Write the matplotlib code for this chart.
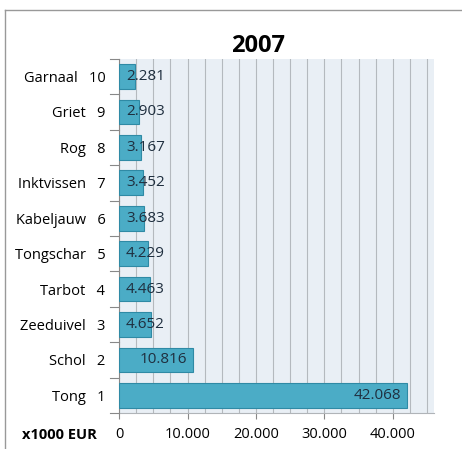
import matplotlib
matplotlib.use('Agg')
import matplotlib.pyplot as plt
from matplotlib.ticker import MultipleLocator, FuncFormatter
from matplotlib.lines import Line2D

# Data (x1000 EUR), top to bottom as in the chart
species = ['Garnaal', 'Griet', 'Rog', 'Inktvissen', 'Kabeljauw',
           'Tongschar', 'Tarbot', 'Zeeduivel', 'Schol', 'Tong']
ranks = [10, 9, 8, 7, 6, 5, 4, 3, 2, 1]
values = [2281, 2903, 3167, 3452, 3683, 4229, 4463, 4652, 10816, 42068]
value_labels = ['2.281', '2.903', '3.167', '3.452', '3.683',
                '4.229', '4.463', '4.652', '10.816', '42.068']

plt.rcParams['font.family'] = ['Open Sans', 'DejaVu Sans']

fig = plt.figure(figsize=(4.62, 4.49), dpi=100)
ax = fig.add_axes([0.258, 0.080, 0.681, 0.789])
ax.set_facecolor('#e9eff5')

ypos = list(range(len(species)))[::-1]
ax.barh(ypos, values, height=0.7, color='#4bacc6', edgecolor='#2f8aa5',
        linewidth=0.8, zorder=3)

for y, v, lab in zip(ypos, values, value_labels):
    if v > 8000:
        ax.text(v - 900, y, lab, ha='right', va='center', fontsize=11,
                color='#1f2f3f', zorder=4)
    else:
        ax.text(1000, y, lab, ha='left', va='center', fontsize=11,
                color='#1f2f3f', zorder=4)

ax.set_xlim(0, 46000)
ax.set_ylim(-0.5, len(species) - 0.5)
ax.xaxis.set_major_locator(MultipleLocator(10000))
ax.xaxis.set_minor_locator(MultipleLocator(2500))
ax.xaxis.set_major_formatter(FuncFormatter(lambda x, p: f'{int(x):,}'.replace(',', '.')))
ax.grid(True, axis='x', which='both', color='#b4b9be', linewidth=0.8, zorder=0)

ax.set_yticks(ypos)
ax.set_yticklabels([f'{s}   {r}' for s, r in zip(species, ranks)], fontsize=10.5)
ax.tick_params(axis='y', length=0, pad=10)
ax.tick_params(axis='x', which='major', length=4, color='#888888', labelsize=10.5, pad=6)
ax.tick_params(axis='x', which='minor', length=0)

# tick marks between categories on the value axis side
for b in range(len(species) + 1):
    ax.plot([-1300, 0], [b - 0.5, b - 0.5], color='#888888', lw=0.8,
            clip_on=False, zorder=5)

for side in ['top', 'right']:
    ax.spines[side].set_visible(False)
ax.spines['left'].set_color('#888888')
ax.spines['bottom'].set_color('#b0b4b8')

fig.text(0.558, 0.898, '2007', ha='center', va='center', fontsize=17,
         fontweight='bold')
fig.text(0.048, 0.031, 'x1000 EUR', ha='left', va='center', fontsize=10.5,
         fontweight='bold')

# outer chart frame
fig.add_artist(Line2D([0.011, 1.0], [0.978, 0.978], color='#999999', lw=1))
fig.add_artist(Line2D([0.011, 0.011], [0.0, 0.978], color='#999999', lw=1))

fig.savefig('out.png', dpi=100)
